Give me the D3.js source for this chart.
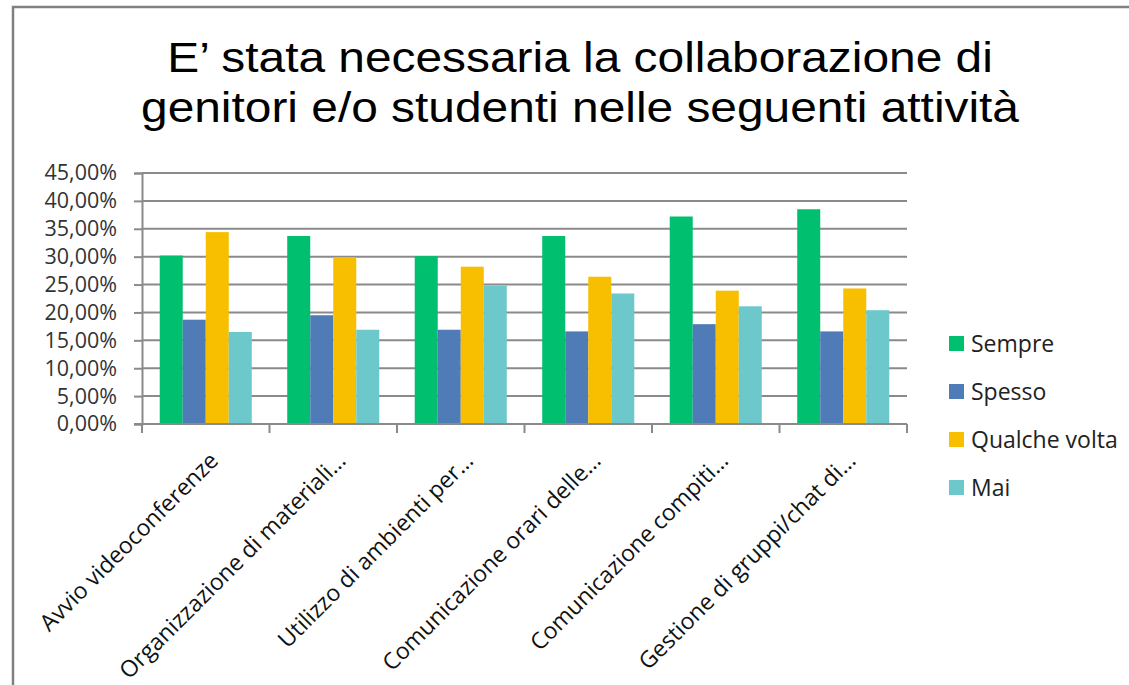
<!DOCTYPE html>
<html>
<head>
<meta charset="utf-8">
<script src="https://cdn.jsdelivr.net/npm/d3@7"></script>
<style>
  body { margin: 0; background: #fff; }
  svg { display: block; }
</style>
</head>
<body>
<div id="chart"></div>
<script>
var width = 1129;
var height = 685;

// data
var categories = [
  "Avvio videoconferenze",
  "Organizzazione di materiali…",
  "Utilizzo di ambienti per…",
  "Comunicazione orari delle…",
  "Comunicazione compiti…",
  "Gestione di gruppi/chat di…"
];
var series = ["Sempre", "Spesso", "Qualche volta", "Mai"];
var sempre = [30.2, 33.7, 30.1, 33.7, 37.2, 38.5];
var spesso = [18.7, 19.5, 16.9, 16.6, 17.9, 16.6];
var qualcheVolta = [34.4, 29.9, 28.2, 26.4, 23.9, 24.3];
var mai = [16.5, 16.9, 24.8, 23.4, 21.1, 20.4];
var yTicks = [0, 5, 10, 15, 20, 25, 30, 35, 40, 45];
var colors = ["#00BF6F", "#4F7CB6", "#F8BE00", "#6DC8CC"];

var values = [sempre, spesso, qualcheVolta, mai];

var svg = d3.select("#chart")
  .append("svg")
    .attr("width", width)
    .attr("height", height);

// frame of the chart area (only top and left edge visible)
svg.append("path")
  .attr("d", "M13," + height + "V7H" + width)
  .attr("fill", "none")
  .attr("stroke", "#808080")
  .attr("stroke-width", 2.5);

// title (the original is a bit stretched sideways)
var title = svg.append("text")
  .attr("transform", "translate(580,0) scale(1.14,1)")
  .attr("text-anchor", "middle")
  .style("font-family", "'Liberation Sans', Arial, sans-serif")
  .style("font-size", "42px")
  .attr("fill", "#000");
title.append("tspan").attr("x", 0).attr("y", 72).text("E’ stata necessaria la collaborazione di");
title.append("tspan").attr("x", 0).attr("y", 122).text("genitori e/o studenti nelle seguenti attività");

var plot = { left: 142, right: 907, top: 173, bottom: 424 };

var x0 = d3.scaleBand()
  .domain(categories)
  .range([plot.left, plot.right]);

var x1 = d3.scaleBand()
  .domain(series)
  .range([0, x0.bandwidth()])
  .paddingOuter(0.77);

var y = d3.scaleLinear()
  .domain([0, 45])
  .range([plot.bottom, plot.top]);

var fmt = function(d) { return d.toFixed(2).replace(".", ",") + "%"; };

// gridlines
svg.append("g")
  .selectAll("line")
  .data(yTicks)
  .enter().append("line")
    .attr("x1", plot.left)
    .attr("x2", plot.right)
    .attr("y1", function(d) { return y(d); })
    .attr("y2", function(d) { return y(d); })
    .attr("stroke", "#8a8a8a")
    .attr("stroke-width", 2);

// y axis
var yAxis = svg.append("g")
  .attr("transform", "translate(" + plot.left + ",0)")
  .call(d3.axisLeft(y).tickValues(yTicks).tickFormat(fmt).tickSize(8).tickPadding(17));
yAxis.select(".domain").attr("stroke", "#8a8a8a").attr("stroke-width", 2);
yAxis.selectAll(".tick line").attr("stroke", "#8a8a8a").attr("stroke-width", 2);
yAxis.selectAll(".tick text")
  .attr("fill", "#333")
  .style("font-family", "'Open Sans', sans-serif")
  .style("font-size", "21.5px");

// bars
var groups = svg.append("g")
  .selectAll("g")
  .data(categories)
  .enter().append("g")
    .attr("transform", function(d) { return "translate(" + x0(d) + ",0)"; });

groups.selectAll("rect")
  .data(function(d, i) {
    return series.map(function(s, j) { return { key: s, value: values[j][i], idx: j }; });
  })
  .enter().append("rect")
    .attr("x", function(d) { return x1(d.key); })
    .attr("y", function(d) { return y(d.value); })
    .attr("width", x1.bandwidth())
    .attr("height", function(d) { return y(0) - y(d.value); })
    .attr("fill", function(d) { return colors[d.idx]; });

// x axis with ticks between categories
var xAxis = svg.append("g");
xAxis.append("line")
  .attr("x1", plot.left - 8)
  .attr("x2", plot.right)
  .attr("y1", y(0))
  .attr("y2", y(0))
  .attr("stroke", "#8a8a8a")
  .attr("stroke-width", 2);
xAxis.selectAll(".xtick")
  .data(categories.map(function(c) { return x0(c); }).concat([x0(categories[categories.length - 1]) + x0.bandwidth()]))
  .enter().append("line")
    .attr("class", "xtick")
    .attr("x1", function(d) { return d; })
    .attr("x2", function(d) { return d; })
    .attr("y1", y(0))
    .attr("y2", y(0) + 9)
    .attr("stroke", "#8a8a8a")
    .attr("stroke-width", 2);

xAxis.selectAll(".xlabel")
  .data(categories)
  .enter().append("text")
    .attr("class", "xlabel")
    .attr("transform", function(d) {
      return "translate(" + (x0(d) + x0.bandwidth() / 2 + 14) + "," + (y(0) + 38) + ") rotate(-45)";
    })
    .attr("text-anchor", "end")
    .attr("fill", "#111")
    .style("font-family", "'Open Sans', sans-serif")
    .style("font-size", "23px")
    .text(function(d) { return d; });

// legend
var legend = svg.append("g")
  .selectAll("g")
  .data(series)
  .enter().append("g")
    .attr("transform", function(d, i) { return "translate(949," + (336 + i * 48) + ")"; });

legend.append("rect")
  .attr("width", 15)
  .attr("height", 15)
  .attr("fill", function(d, i) { return colors[i]; });

legend.append("text")
  .attr("x", 22)
  .attr("y", 8)
  .attr("dy", "0.35em")
  .attr("fill", "#222")
  .style("font-family", "'Open Sans', sans-serif")
  .style("font-size", "23px")
  .text(function(d) { return d; });
</script>
</body>
</html>
